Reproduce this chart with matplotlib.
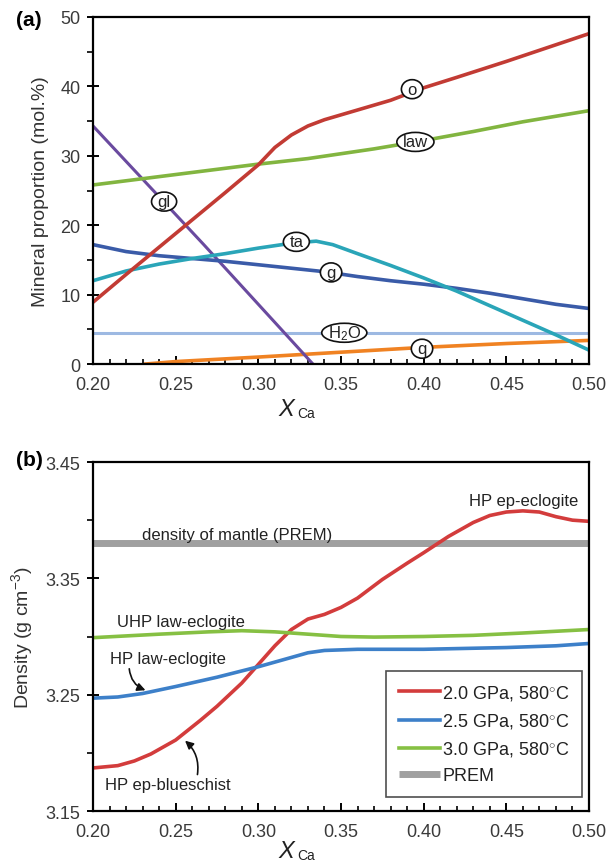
import matplotlib
matplotlib.use("Agg")
import matplotlib.pyplot as plt
from matplotlib.ticker import MultipleLocator, FixedLocator
from matplotlib.patches import Ellipse
from matplotlib.transforms import IdentityTransform

plt.rcParams['font.family'] = ['Liberation Sans', 'DejaVu Sans']
plt.rcParams['mathtext.fontset'] = 'custom'
plt.rcParams['mathtext.rm'] = 'Liberation Sans'
plt.rcParams['mathtext.it'] = 'Liberation Sans:italic'

# ---------------- Panel (a) data ----------------
o_x = [0.20, 0.22, 0.25, 0.28, 0.30, 0.31, 0.32, 0.33, 0.34, 0.35, 0.36, 0.37, 0.38, 0.39, 0.40, 0.42, 0.45, 0.48, 0.50]
o_y = [8.9, 12.9, 18.8, 24.7, 28.7, 31.2, 33.0, 34.3, 35.2, 35.9, 36.6, 37.3, 38.0, 38.9, 39.8, 41.3, 43.6, 46.0, 47.6]

law_x = [0.20, 0.25, 0.30, 0.33, 0.35, 0.37, 0.40, 0.43, 0.46, 0.50]
law_y = [25.8, 27.3, 28.8, 29.6, 30.3, 31.0, 32.2, 33.5, 34.9, 36.5]

gl_x = [0.20, 0.267, 0.333]
gl_y = [34.3, 17.2, 0.0]

ta_x = [0.20, 0.22, 0.24, 0.26, 0.28, 0.30, 0.32, 0.335, 0.345, 0.36, 0.38, 0.40, 0.42, 0.44, 0.46, 0.48, 0.50]
ta_y = [12.0, 13.4, 14.4, 15.2, 15.9, 16.7, 17.4, 17.7, 17.2, 15.9, 14.2, 12.4, 10.5, 8.4, 6.3, 4.2, 2.0]

g_x = [0.20, 0.22, 0.24, 0.26, 0.28, 0.30, 0.32, 0.34, 0.36, 0.38, 0.40, 0.42, 0.44, 0.46, 0.48, 0.50]
g_y = [17.2, 16.2, 15.6, 15.2, 14.8, 14.3, 13.8, 13.3, 12.6, 12.0, 11.5, 10.9, 10.2, 9.4, 8.6, 8.0]

h2o_x = [0.20, 0.50]
h2o_y = [4.5, 4.5]

q_x = [0.232, 0.25, 0.30, 0.35, 0.40, 0.45, 0.50]
q_y = [0.0, 0.35, 1.0, 1.7, 2.4, 2.95, 3.4]

labels_a = ['o', 'law', 'gl', 'ta', 'g', 'H$_2$O', 'q']
labels_a_x = [0.393, 0.395, 0.243, 0.323, 0.344, 0.352, 0.399]
labels_a_y = [39.6, 32.0, 23.4, 17.6, 13.2, 4.5, 2.2]

# ---------------- Panel (b) data ----------------
r_x = [0.20, 0.215, 0.225, 0.235, 0.25, 0.265, 0.275, 0.29, 0.30, 0.31, 0.32, 0.33, 0.34, 0.35, 0.36,
       0.375, 0.39, 0.40, 0.415, 0.43, 0.44, 0.45, 0.46, 0.47, 0.48, 0.49, 0.50]
r_y = [3.187, 3.189, 3.193, 3.199, 3.211, 3.228, 3.240, 3.260, 3.276, 3.292, 3.306, 3.315, 3.319, 3.325, 3.333,
       3.349, 3.363, 3.372, 3.386, 3.398, 3.404, 3.407, 3.408, 3.407, 3.403, 3.400, 3.399]

b_x = [0.20, 0.215, 0.23, 0.25, 0.275, 0.30, 0.315, 0.33, 0.34, 0.36, 0.40, 0.45, 0.48, 0.50]
b_y = [3.247, 3.248, 3.251, 3.257, 3.265, 3.274, 3.280, 3.286, 3.288, 3.289, 3.289, 3.2905, 3.292, 3.294]

gr_x = [0.20, 0.24, 0.27, 0.29, 0.31, 0.33, 0.35, 0.37, 0.40, 0.43, 0.46, 0.50]
gr_y = [3.299, 3.302, 3.304, 3.305, 3.304, 3.302, 3.300, 3.2995, 3.300, 3.301, 3.303, 3.306]

prem_x = [0.20, 0.50]
prem_y = [3.38, 3.38]

legend_labels = ['2.0 GPa, 580$^{\\circ}$C', '2.5 GPa, 580$^{\\circ}$C', '3.0 GPa, 580$^{\\circ}$C', 'PREM']

xticks = [0.20, 0.25, 0.30, 0.35, 0.40, 0.45, 0.50]
xticklabels = ['0.20', '0.25', '0.30', '0.35', '0.40', '0.45', '0.50']
yticks_a = [0, 10, 20, 30, 40, 50]
yticks_b = [3.15, 3.25, 3.35, 3.45]
yticklabels_b = ['3.15', '3.25', '3.35', '3.45']

# ---------------- Figure ----------------
fig = plt.figure(figsize=(6.11, 8.62), dpi=100)
L, W = 93 / 611, 496 / 611
axA = fig.add_axes([L, 1 - 365 / 862, W, 347 / 862])
axB = fig.add_axes([L, 1 - 812 / 862, W, 349 / 862])

tick_col = '#3a3a3a'


def style(ax, xlab_y):
    for s in ax.spines.values():
        s.set_linewidth(1.6)
        s.set_color('black')
    ax.set_xlim(0.20, 0.50)
    ax.set_xticks(xticks)
    ax.set_xticklabels(xticklabels)
    ax.xaxis.set_minor_locator(MultipleLocator(0.01))
    ax.tick_params(axis='x', which='major', direction='in', length=6, width=1.4,
                   labelsize=13, labelcolor=tick_col, pad=9)
    ax.tick_params(axis='x', which='minor', direction='in', length=3.5, width=1.2)
    ax.tick_params(axis='y', which='major', direction='inout', length=8, width=1.4,
                   labelsize=13, labelcolor=tick_col, pad=5)
    ax.tick_params(axis='y', which='minor', direction='out', length=4, width=1.2)
    ax.tick_params(top=False, right=False, which='both')
    ax.text(0.405, xlab_y, 'X', style='italic', fontsize=17, color='#222222',
            ha='right', va='center', transform=ax.transAxes)
    ax.text(0.412, xlab_y - 0.013, 'Ca', fontsize=10, color='#222222',
            ha='left', va='center', transform=ax.transAxes)


# Panel (a)
style(axA, -0.128)
axA.set_ylim(0, 50)
axA.set_yticks(yticks_a)
axA.yaxis.set_minor_locator(MultipleLocator(5))
axA.plot(h2o_x, h2o_y, color='#9db9e2', lw=2.2, solid_capstyle='butt')
axA.plot(q_x, q_y, color='#f08222', lw=2.6)
axA.plot(gl_x, gl_y, color='#6a4a9f', lw=2.2)
axA.plot(g_x, g_y, color='#3a5ba8', lw=2.6)
axA.plot(ta_x, ta_y, color='#2aa5b8', lw=2.6)
axA.plot(law_x, law_y, color='#82b540', lw=2.6)
axA.plot(o_x, o_y, color='#c23b34', lw=2.6)
label_texts = []
for t, x, y in zip(labels_a, labels_a_x, labels_a_y):
    label_texts.append(axA.text(x, y, t, fontsize=12, ha='center', va='center',
                                color='#222222', zorder=7))
axA.set_ylabel('Mineral proportion (mol.%)', fontsize=14, color='#333333', labelpad=8)
fig.text(16 / 611, 1 - 21 / 862, '(a)', fontsize=15, fontweight='bold', ha='left', va='center')

# Panel (b)
style(axB, -0.112)
axB.set_ylim(3.15, 3.45)
axB.set_yticks(yticks_b)
axB.set_yticklabels(yticklabels_b)
axB.yaxis.set_minor_locator(FixedLocator([3.20, 3.30, 3.40]))
lp, = axB.plot(prem_x, prem_y, color='#a0a0a0', lw=5, solid_capstyle='butt')
lr, = axB.plot(r_x, r_y, color='#d33c3c', lw=2.6)
lb, = axB.plot(b_x, b_y, color='#3d80c9', lw=2.6)
lg, = axB.plot(gr_x, gr_y, color='#86c043', lw=2.6)
leg = axB.legend([lr, lb, lg, lp], legend_labels, loc='lower right', bbox_to_anchor=(0.986, 0.04),
                 fontsize=13, frameon=True, fancybox=False, edgecolor='#222222',
                 handlelength=2.3, handletextpad=0.1, labelspacing=0.5, borderpad=0.7,
                 borderaxespad=0)
leg.get_frame().set_linewidth(1.2)
for t in leg.get_texts():
    t.set_color('#222222')

txt_kw = dict(fontsize=12, color='#222222', ha='center', va='center')
axB.text(0.2874, 3.388, 'density of mantle (PREM)', **txt_kw)
axB.text(0.4607, 3.4167, 'HP ep-eclogite', **txt_kw)
axB.text(0.2532, 3.3127, 'UHP law-eclogite', **txt_kw)
axB.text(0.2454, 3.2807, 'HP law-eclogite', **txt_kw)
axB.text(0.2454, 3.1724, 'HP ep-blueschist', **txt_kw)
axB.annotate('', xy=(0.2333, 3.253), xytext=(0.2218, 3.2746),
             arrowprops=dict(arrowstyle='-|>', color='#111111', lw=1.2,
                             connectionstyle='arc3,rad=0.35', mutation_scale=12))
axB.annotate('', xy=(0.2544, 3.212), xytext=(0.2629, 3.179),
             arrowprops=dict(arrowstyle='-|>', color='#111111', lw=1.2,
                             connectionstyle='arc3,rad=0.3', mutation_scale=12))
axB.set_ylabel('Density (g cm$^{\u22123}$)', fontsize=14, color='#333333', labelpad=8)
fig.text(16 / 611, 1 - 461 / 862, '(b)', fontsize=15, fontweight='bold', ha='left', va='center')

# Ellipses around the panel (a) labels, sized from the rendered text
fig.canvas.draw()
renderer = fig.canvas.get_renderer()
for txt in label_texts:
    bb = txt.get_window_extent(renderer)
    cx, cy = (bb.x0 + bb.x1) / 2, (bb.y0 + bb.y1) / 2
    w = max(bb.width + 12, 19)
    e = Ellipse((cx, cy), w, 19, transform=IdentityTransform(), facecolor='white',
                edgecolor='#111111', lw=1.2, zorder=6)
    axA.add_artist(e)

fig.savefig('out.png', dpi=100)
